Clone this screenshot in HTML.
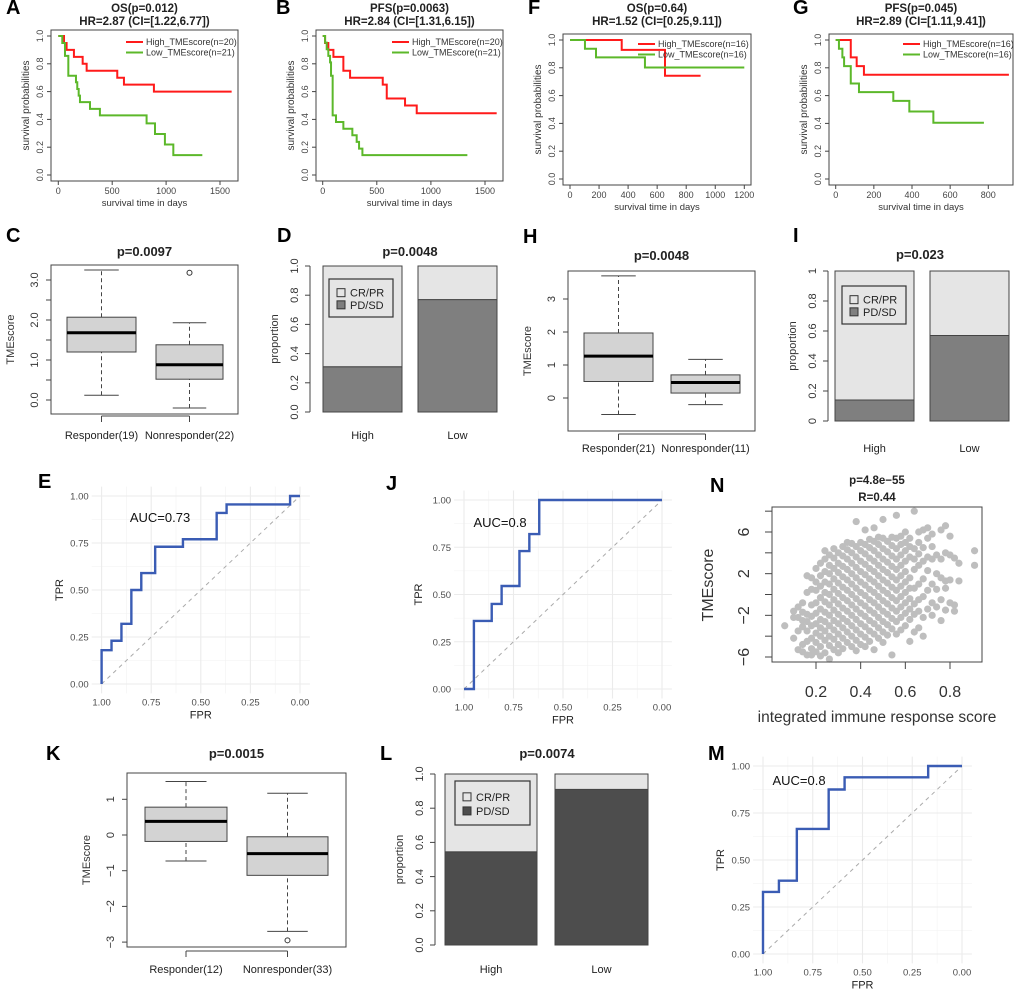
<!DOCTYPE html>
<html><head><meta charset="utf-8"><style>
html,body{margin:0;padding:0;background:#fff;}
svg{display:block;font-family:"Liberation Sans",Arial,sans-serif;}
</style></head><body>
<svg id="fig" width="1020" height="993" viewBox="0 0 1020 993" xmlns="http://www.w3.org/2000/svg"></svg>
<script>
// ---------- DATA ----------
const aHighT=[0,53,77,145,226,263,547,609,887], aHighS=[1,0.95,0.9,0.85,0.8,0.75,0.7,0.65,0.6], aHighEnd=1608;
const aLowT=[0,37,62,93,164,176,189,201,294,386,819,897,989,1067], aLowS=[1,0.95,0.857,0.714,0.667,0.619,0.571,0.524,0.476,0.429,0.371,0.295,0.219,0.143], aLowEnd=1336;
const bHighT=[0,22,52,99,191,253,555,592,761,869], bHighS=[1,0.95,0.9,0.85,0.75,0.7,0.65,0.55,0.5,0.444], bHighEnd=1608;
const bLowT=[0,22,37,52,68,77,92,123,191,274,314,336,367], bLowS=[1,0.952,0.905,0.857,0.81,0.714,0.429,0.381,0.333,0.286,0.238,0.19,0.143], bLowEnd=1337;
const fHighT=[0,356,654], fHighS=[1,0.929,0.743], fHighEnd=899;
const fLowT=[0,103,179,516], fLowS=[1,0.9375,0.875,0.802], fLowEnd=1200;
const gHighT=[0,79,110,148], gHighS=[1,0.875,0.8125,0.75], gHighEnd=908;
const gLowT=[0,17,35,44,79,122,302,386,512], gLowS=[1,0.9375,0.875,0.8125,0.6875,0.625,0.5625,0.486,0.405], gLowEnd=777;
const survTicks01=[0,0.2,0.4,0.6,0.8,1.0];
const survTicksAB=[0,500,1000,1500], survTicksF=[0,200,400,600,800,1000,1200], survTicksG=[0,200,400,600,800];
const cResp=[0.12,1.2,1.68,2.07,3.25], cNonr=[-0.2,0.52,0.88,1.38,1.93], cOut=[3.18];
const hResp=[-0.5,0.5,1.27,1.97,3.7], hNonr=[-0.2,0.15,0.47,0.7,1.17], hOut=[];
const kResp=[-0.73,-0.18,0.38,0.78,1.5], kNonr=[-2.7,-1.13,-0.52,-0.05,1.17], kOut=[-2.95];
const barCats=['High','Low'];
const dPD=[0.31,0.77], iPD=[0.14,0.57], lPD=[0.545,0.91];
const eFPR=[1,1,0.95,0.95,0.9,0.9,0.85,0.85,0.8,0.8,0.73,0.73,0.59,0.59,0.42,0.42,0.37,0.37,0.05,0.05,0];
const eTPR=[0,0.18,0.18,0.23,0.23,0.32,0.32,0.5,0.5,0.59,0.59,0.73,0.73,0.77,0.77,0.91,0.91,0.955,0.955,1,1];
const jFPR=[1,0.95,0.95,0.86,0.86,0.81,0.81,0.72,0.72,0.67,0.67,0.62,0.62,0];
const jTPR=[0,0,0.36,0.36,0.45,0.45,0.545,0.545,0.73,0.73,0.82,0.82,1,1];
const mFPR=[1,1,0.92,0.92,0.83,0.83,0.67,0.67,0.59,0.59,0.17,0.17,0];
const mTPR=[0,0.33,0.33,0.39,0.39,0.665,0.665,0.875,0.875,0.94,0.94,1,1];
const rocTicks=[0,0.25,0.5,0.75,1], rocTickLabels=['0.00','0.25','0.50','0.75','1.00'];
const nX=[0.06,0.10,0.12,0.14,0.16,0.18,0.20,0.22,0.24,0.26,0.28,0.30,0.32,0.34,0.36,0.38,0.40,0.42,0.44,0.46,0.48,0.50,0.52,0.54,0.56,0.58,0.60,0.62,0.64,0.66,0.68,0.70,0.72,0.74,0.76,0.78,0.80,0.82,0.84,0.91];
const nY=[[-3],[-4.2,-1.6,-2.2],[-5.3,-2.2,-1.2,-3.5],[-4.8,-3.1,-1.7,-0.8,-2.5,-5.5],[-5.8,-4.5,-3.5,-2.6,-1.9,1.8,0.2],
[-5.2,-4.2,-3.0,-2.1,-1.0,0.5,1.6,-5.8],[-5.5,-4.6,-3.7,-2.8,-1.8,-0.8,0.4,1.2,2.5],[-5.0,-4.0,-3.2,-2.4,-1.4,-0.3,0.8,1.8,3.0,-5.9],
[-5.6,-4.4,-3.5,-2.6,-1.7,-0.7,0.2,1.2,2.2,3.4,4.2],[-4.9,-4.0,-3.0,-2.0,-1.0,0,1.0,2.0,2.8,3.8,-6.2],[-5.3,-4.3,-3.4,-2.5,-1.5,-0.5,0.5,1.5,2.5,3.5,4.4],
[-4.8,-3.8,-2.8,-1.9,-0.9,0.1,1.1,2.1,3.0,4.0,-5.6],[-5.2,-4.2,-3.2,-2.3,-1.3,-0.3,0.7,1.7,2.7,3.7,4.6],[-4.6,-3.6,-2.6,-1.6,-0.6,0.4,1.4,2.4,3.4,4.3,5.0],
[-5.0,-4.0,-3.0,-2.0,-1.0,0,1.0,2.0,3.0,4.0,4.9],[-5.4,-4.4,-3.4,-2.4,-1.4,-0.4,0.6,1.6,2.6,3.6,4.6,7.0],[-4.8,-3.8,-2.8,-1.8,-0.8,0.2,1.2,2.2,3.2,4.2,5.0],
[-5.0,-4.1,-3.1,-2.1,-1.1,-0.1,0.9,1.9,2.9,3.9,4.8,6.2],[-4.5,-3.5,-2.5,-1.5,-0.5,0.5,1.5,2.5,3.5,4.5,5.3],[-5.3,-3.8,-2.8,-1.8,-0.8,0.2,1.2,2.2,3.2,4.2,5.1,6.4],
[-4.2,-3.2,-2.2,-1.2,-0.2,0.8,1.8,2.8,3.8,4.8,5.5],[-4.6,-3.6,-2.6,-1.6,-0.6,0.4,1.4,2.4,3.4,4.4,5.4,7.2],[-3.9,-2.9,-1.9,-0.9,0.1,1.1,2.1,3.1,4.1,5.1],
[-5.8,-3.3,-2.3,-1.3,-0.3,0.7,1.7,2.7,3.7,4.7,5.5],[-3.8,-2.6,-1.6,-0.6,0.4,1.4,2.4,3.4,4.4,5.4,7.6],[-3.4,-2.2,-1.2,-0.2,0.8,1.8,2.8,3.8,4.8,5.6],
[-3.0,-1.8,-0.8,0.2,1.2,2.2,3.2,4.2,5.0,6.0],[-4.5,-2.4,-1.4,-0.4,0.6,1.6,3.6,4.6,5.4],[-3.6,-1.9,-0.9,0.6,2.4,3.4,4.4,8.0],
[-3.2,-1.6,-0.5,1.0,2.8,3.9,5.0,6.0],[-4.0,-2.2,-0.2,1.5,3.2,4.5,6.2],[-1.4,0.4,2.3,3.6,5.4,6.4],[-2.0,-0.8,1.0,3.4,4.6,5.8],
[-1.2,0.5,2.0,3.8],[-2.5,-0.5,1.6,3.4,6.2],[-1.5,0.6,1.3,4.0,6.6],[-0.8,1.4,3.8,5.6],[-1.6,-1.0,3.5],[1.3,3.0],[2.8,4.2]];
const nXTicks=[0.2,0.4,0.6,0.8], nYTicks=[-6,-4,-2,0,2,4,6,8], nYLabels=[-6,-2,2,6];

// ---------- HELPERS ----------
const NS='http://www.w3.org/2000/svg';
const svg=document.getElementById('fig');
function mk(tag,attrs,parent){const e=document.createElementNS(NS,tag);for(const k in attrs)e.setAttribute(k,attrs[k]);(parent||svg).appendChild(e);return e;}
function sc(v0,p0,v1,p1){return v=>p0+(v-v0)*(p1-p0)/(v1-v0);}
function T(s,x,y,size,parent,opt){opt=opt||{};const a={x:x,y:y,'font-size':size,fill:opt.fill||'#222','text-anchor':opt.anchor||'middle'};
 if(opt.bold)a['font-weight']='bold';if(opt.rot)a.transform='rotate(-90 '+x+' '+y+')';const e=mk('text',a,parent);e.textContent=s;return e;}
function grp(name){const g=mk('g',{});return g;}
function fmt1(v){return v.toFixed(1);}

// ---------- SURVIVAL ----------
function surv(c){
 const g=grp(c.name);
 const x=sc(0,c.x0,c.xv,c.x1), y=sc(0,c.y0,1,c.y1);
 const L=T(c.letter,c.lx,14,20,g,{bold:1,anchor:'start',fill:'#000'});
 
 const t1=T(c.title1,(c.bx0+c.bx1)/2,12,11.5,g,{bold:1});
 
 const t2=T(c.title2,(c.bx0+c.bx1)/2,25,11.5,g,{bold:1});
 
 const box=mk('rect',{x:c.bx0,y:c.by0,width:c.bx1-c.bx0,height:c.by1-c.by0,fill:'none',stroke:'#444','stroke-width':1},g);
 
 survTicks01.forEach(v=>{mk('line',{x1:c.bx0,x2:c.bx0-4,y1:y(v),y2:y(v),stroke:'#444'},g);T(fmt1(v),c.bx0-8,y(v),9,g,{rot:1,fill:'#444'});});
 mk('line',{x1:c.bx0,x2:c.bx0,y1:y(0),y2:y(1),stroke:'#444'},g);
 const yt=T('survival probabilities',c.bx0-22,(c.by0+c.by1)/2,10,g,{rot:1,fill:'#333'});
 
 c.xticks.forEach(v=>{mk('line',{x1:x(v),x2:x(v),y1:c.by1,y2:c.by1+4,stroke:'#444'},g);T(String(v),x(v),c.by1+13,9,g,{fill:'#444'});});
 mk('line',{x1:x(c.xticks[0]),x2:x(c.xticks[c.xticks.length-1]),y1:c.by1,y2:c.by1,stroke:'#444'},g);
 const xt=T('survival time in days',(c.bx0+c.bx1)/2,c.by1+25,9.5,g,{fill:'#333'});
 
 c.curves.forEach(cv=>{
  let d='M'+x(cv.t[0])+' '+y(cv.s[0]);
  for(let i=1;i<cv.t.length;i++){d+=' H'+x(cv.t[i])+' V'+y(cv.s[i]);}
  d+=' H'+x(cv.end);
  const p=mk('path',{d:d,fill:'none',stroke:cv.col,'stroke-width':2},g);
  
 });
 c.curves.forEach((cv,i)=>{
  const ly=c.legY+i*10.5;
  const ln=mk('line',{x1:c.legX,x2:c.legX+17,y1:ly,y2:ly,stroke:cv.col,'stroke-width':2},g);
  
  const lt=T(cv.label,c.legX+20,ly+3.2,9,g,{anchor:'start',fill:'#333'});
  
 });
}
const RED='#ff1a1a', GRN='#5cb82a';
surv({name:'panel-a-os',letter:'A',lx:6,title1:'OS(p=0.012)',title2:'HR=2.87 (CI=[1.22,6.77])',bx0:51,bx1:238,by0:30,by1:181,x0:58.3,x1:220,xv:1500,y0:175,y1:36,xticks:survTicksAB,legX:126,legY:42,
 curves:[{t:aHighT,s:aHighS,end:aHighEnd,col:RED,nm:'curve-high',label:'High_TMEscore(n=20)'},{t:aLowT,s:aLowS,end:aLowEnd,col:GRN,nm:'curve-low',label:'Low_TMEscore(n=21)'}]});
surv({name:'panel-b-pfs',letter:'B',lx:276,title1:'PFS(p=0.0063)',title2:'HR=2.84 (CI=[1.31,6.15])',bx0:316,bx1:503,by0:30,by1:181,x0:322.7,x1:485,xv:1500,y0:175,y1:36,xticks:survTicksAB,legX:392,legY:42,
 curves:[{t:bHighT,s:bHighS,end:bHighEnd,col:RED,nm:'curve-high',label:'High_TMEscore(n=20)'},{t:bLowT,s:bLowS,end:bLowEnd,col:GRN,nm:'curve-low',label:'Low_TMEscore(n=21)'}]});
surv({name:'panel-f-os',letter:'F',lx:528,title1:'OS(p=0.64)',title2:'HR=1.52 (CI=[0.25,9.11])',bx0:563,bx1:751,by0:34,by1:185,x0:570,x1:744.3,xv:1200,y0:179,y1:40,xticks:survTicksF,legX:638,legY:44,
 curves:[{t:fHighT,s:fHighS,end:fHighEnd,col:RED,nm:'curve-high',label:'High_TMEscore(n=16)'},{t:fLowT,s:fLowS,end:fLowEnd,col:GRN,nm:'curve-low',label:'Low_TMEscore(n=16)'}]});
surv({name:'panel-g-pfs',letter:'G',lx:793,title1:'PFS(p=0.045)',title2:'HR=2.89 (CI=[1.11,9.41])',bx0:829,bx1:1013,by0:34,by1:185,x0:835.7,x1:988.3,xv:800,y0:179,y1:40,xticks:survTicksG,legX:903,legY:44,
 curves:[{t:gHighT,s:gHighS,end:gHighEnd,col:RED,nm:'curve-high',label:'High_TMEscore(n=16)'},{t:gLowT,s:gLowS,end:gLowEnd,col:GRN,nm:'curve-low',label:'Low_TMEscore(n=16)'}]});

// ---------- BOXPLOTS ----------
function boxp(c){
 const g=grp(c.name);
 const y=sc(0,c.y0,1,c.y0-c.unit);
 const L=T(c.letter,c.lx,c.ly,20,g,{bold:1,anchor:'start',fill:'#000'});
 
 const t=T(c.title,(c.bx0+c.bx1)/2,c.ty,13,g,{bold:1});
 
 const fr=mk('rect',{x:c.bx0,y:c.by0,width:c.bx1-c.bx0,height:c.by1-c.by0,fill:'none',stroke:'#444'},g);
 
 c.ticks.forEach(v=>{mk('line',{x1:c.bx0,x2:c.bx0-5,y1:y(v),y2:y(v),stroke:'#444'},g);});
 mk('line',{x1:c.bx0,x2:c.bx0,y1:y(c.ticks[0]),y2:y(c.ticks[c.ticks.length-1]),stroke:'#444'},g);
 c.labels.forEach(v=>{T(c.lf(v),c.bx0-13,y(v),11,g,{rot:1,fill:'#333'});});
 const yt=T('TMEscore',c.bx0-37,(c.by0+c.by1)/2,11,g,{rot:1,fill:'#333'});
 
 c.groups.forEach((gr,i)=>{
  const cx=(gr.x0+gr.x1)/2, hw=(gr.x1-gr.x0)/4, s=gr.s;
  const gg=mk('g',{},g);
  
  
  mk('line',{x1:cx,x2:cx,y1:y(s[0]),y2:y(s[1]),stroke:'#444','stroke-dasharray':'4,3'},gg);
  mk('line',{x1:cx,x2:cx,y1:y(s[3]),y2:y(s[4]),stroke:'#444','stroke-dasharray':'4,3'},gg);
  mk('line',{x1:cx-hw,x2:cx+hw,y1:y(s[0]),y2:y(s[0]),stroke:'#444'},gg);
  mk('line',{x1:cx-hw,x2:cx+hw,y1:y(s[4]),y2:y(s[4]),stroke:'#444'},gg);
  mk('rect',{x:gr.x0,y:y(s[3]),width:gr.x1-gr.x0,height:y(s[1])-y(s[3]),fill:'#d3d3d3',stroke:'#444'},gg);
  mk('line',{x1:gr.x0,x2:gr.x1,y1:y(s[2]),y2:y(s[2]),stroke:'#000','stroke-width':3},gg);
  gr.out.forEach(o=>{mk('circle',{cx:cx,cy:y(o),r:2.5,fill:'none',stroke:'#333'},gg);});
  mk('line',{x1:cx,x2:cx,y1:c.ax,y2:c.ax+6,stroke:'#444'},g);
  const xl=T(gr.label,cx,c.xly,11,g,{fill:'#222'});
  
 });
 const cx0=(c.groups[0].x0+c.groups[0].x1)/2, cx1=(c.groups[1].x0+c.groups[1].x1)/2;
 mk('line',{x1:cx0,x2:cx1,y1:c.ax,y2:c.ax,stroke:'#444'},g);
}
boxp({name:'panel-c-boxplot',letter:'C',lx:6,ly:242,title:'p=0.0097',ty:256,bx0:51,bx1:238,by0:265,by1:414,y0:400,unit:40,
 ticks:[0,0.5,1,1.5,2,2.5,3],labels:[0,1,2,3],lf:v=>v.toFixed(1),ax:416,xly:439,
 groups:[{x0:67,x1:136,s:cResp,out:[],nm:'box-responder',label:'Responder(19)'},{x0:156,x1:223,s:cNonr,out:cOut,nm:'box-nonresponder',label:'Nonresponder(22)'}]});
boxp({name:'panel-h-boxplot',letter:'H',lx:523,ly:243,title:'p=0.0048',ty:260,bx0:568,bx1:755,by0:271,by1:431,y0:398,unit:33,
 ticks:[0,1,2,3],labels:[0,1,2,3],lf:v=>String(v),ax:434,xly:452,
 groups:[{x0:584,x1:653,s:hResp,out:hOut,nm:'box-responder',label:'Responder(21)'},{x0:671,x1:740,s:hNonr,out:[],nm:'box-nonresponder',label:'Nonresponder(11)'}]});
boxp({name:'panel-k-boxplot',letter:'K',lx:46,ly:760,title:'p=0.0015',ty:758,bx0:127,bx1:346,by0:773,by1:947,y0:835,unit:35.7,
 ticks:[-3,-2,-1,0,1],labels:[-3,-2,-1,0,1],lf:v=>(v<0?'\u2212'+(-v):String(v)),ax:951,xly:973,
 groups:[{x0:145,x1:227,s:kResp,out:[],nm:'box-responder',label:'Responder(12)'},{x0:247,x1:328,s:kNonr,out:kOut,nm:'box-nonresponder',label:'Nonresponder(33)'}]});

// ---------- BARS ----------
function bars(c){
 const g=grp(c.name);
 const y=sc(0,c.y0,1,c.y1);
 const L=T(c.letter,c.lx,c.ly,20,g,{bold:1,anchor:'start',fill:'#000'});
 
 const t=T(c.title,c.tx,c.ty,13,g,{bold:1});
 
 [0,0.2,0.4,0.6,0.8,1].forEach(v=>{mk('line',{x1:c.ax,x2:c.ax-5,y1:y(v),y2:y(v),stroke:'#444'},g);T(c.lf(v),c.ax-12,y(v),11,g,{rot:1,fill:'#333'});});
 mk('line',{x1:c.ax,x2:c.ax,y1:y(0),y2:y(1),stroke:'#444'},g);
 const yt=T('proportion',c.ax-32,(c.y0+c.y1)/2,11,g,{rot:1,fill:'#333'});
 
 c.pd.forEach((v,i)=>{
  const x0=c.bx[i][0], w=c.bx[i][1]-c.bx[i][0];
  const r1=mk('rect',{x:x0,y:y(v),width:w,height:y(0)-y(v),fill:c.dark,stroke:'#444'},g);
  
  const r2=mk('rect',{x:x0,y:y(1),width:w,height:y(v)-y(1),fill:'#e5e5e5',stroke:'#444'},g);
  
  const xl=T(barCats[i],x0+w/2,c.xly,11,g,{fill:'#222'});
  
 });
 const lg=mk('g',{},g);
 
 
 mk('rect',{x:c.lg[0],y:c.lg[1],width:c.lg[2]-c.lg[0],height:c.lg[3]-c.lg[1],fill:'#e5e5e5',stroke:'#333','stroke-width':1.2},lg);
 const lh=(c.lg[3]-c.lg[1]);
 [['CR/PR','#e5e5e5'],['PD/SD',c.dark]].forEach((e,i)=>{
  const yy=c.lg[1]+lh*(0.36+i*0.32);
  mk('rect',{x:c.lg[0]+8,y:yy-4,width:8,height:8,fill:e[1],stroke:'#333'},lg);
  const te=T(e[0],c.lg[0]+21,yy+4,11,lg,{anchor:'start',fill:'#222'});
  
 });
}
bars({name:'panel-d-proportion',letter:'D',lx:277,ly:242,title:'p=0.0048',tx:410,ty:256,ax:310,y0:412,y1:266,lf:v=>v.toFixed(1),
 pd:dPD,bx:[[323,402],[418,497]],dark:'#7f7f7f',lg:[329,279,393,317],xly:439});
bars({name:'panel-i-proportion',letter:'I',lx:793,ly:242,title:'p=0.023',tx:920,ty:259,ax:828,y0:421,y1:271,lf:v=>(v===0||v===1?String(v):v.toFixed(1)),
 pd:iPD,bx:[[835,914],[930,1009]],dark:'#7f7f7f',lg:[842,286,906,324],xly:452});
bars({name:'panel-l-proportion',letter:'L',lx:380,ly:760,title:'p=0.0074',tx:547,ty:758,ax:435,y0:945,y1:774,lf:v=>v.toFixed(1),
 pd:lPD,bx:[[445,537],[555,648]],dark:'#4d4d4d',lg:[455,781,530,825],xly:973});

// ---------- ROC ----------
function roc(c){
 const g=grp(c.name);
 const x=sc(1,c.x1p,0,c.x0p), y=sc(0,c.y0p,1,c.y1p);
 const L=T(c.letter,c.lx,c.ly,20,g,{bold:1,anchor:'start',fill:'#000'});
 
 const px0=x(1.05),px1=x(-0.05),py0=y(1.05),py1=y(-0.05);
 [0.125,0.375,0.625,0.875].forEach(v=>{mk('line',{x1:x(v),x2:x(v),y1:py0,y2:py1,stroke:'#f2f2f2','stroke-width':0.6},g);mk('line',{x1:px0,x2:px1,y1:y(v),y2:y(v),stroke:'#f2f2f2','stroke-width':0.6},g);});
 rocTicks.forEach((v,i)=>{
  mk('line',{x1:x(v),x2:x(v),y1:py0,y2:py1,stroke:'#ebebeb','stroke-width':1.1},g);
  mk('line',{x1:px0,x2:px1,y1:y(v),y2:y(v),stroke:'#ebebeb','stroke-width':1.1},g);
  T(rocTickLabels[i],x(v),py1+12,9.5,g,{fill:'#4d4d4d'});
  T(rocTickLabels[i],px0-3,y(v)+3.5,9.5,g,{anchor:'end',fill:'#4d4d4d'});
 });
 const dg=mk('line',{x1:x(1),y1:y(0),x2:x(0),y2:y(1),stroke:'#aaaaaa','stroke-dasharray':'4,4'},g);
 
 let d='';c.fpr.forEach((f,i)=>{d+=(i?' L':'M')+x(f)+' '+y(c.tpr[i]);});
 const p=mk('path',{d:d,fill:'none',stroke:'#3a5cb4','stroke-width':2.4},g);
 
 const a=T(c.auc,c.ax,c.ay,13,g,{fill:'#111'});
 
 const xt=T('FPR',(px0+px1)/2,py1+25,11,g,{fill:'#222'});
 
 const yt=T('TPR',c.tprx,(py0+py1)/2,11,g,{rot:1,fill:'#222'});
 
}
roc({name:'panel-e-roc',letter:'E',lx:38,ly:488,x1p:101.6,x0p:300,y0p:684,y1p:496,fpr:eFPR,tpr:eTPR,auc:'AUC=0.73',ax:160,ay:522,tprx:63});
roc({name:'panel-j-roc',letter:'J',lx:386,ly:490,x1p:464,x0p:662,y0p:689,y1p:500,fpr:jFPR,tpr:jTPR,auc:'AUC=0.8',ax:500,ay:527,tprx:422});
roc({name:'panel-m-roc',letter:'M',lx:708,ly:760,x1p:763,x0p:962,y0p:954,y1p:766,fpr:mFPR,tpr:mTPR,auc:'AUC=0.8',ax:799,ay:785,tprx:724});

// ---------- SCATTER N ----------
(function(){
 const g=grp('panel-n-scatter');
 const x=sc(0.2,816,0.8,950), y=sc(-6,657,6,532);
 const L=T('N',710,492,20,g,{bold:1,anchor:'start',fill:'#000'});
 
 const t1=T('p=4.8e\u221255',877,484,11.5,g,{bold:1});
 
 const t2=T('R=0.44',877,501,11.5,g,{bold:1});
 
 const pts=mk('g',{},g);
 
 
 nX.forEach((xv,i)=>{nY[i].forEach(yv=>{mk('circle',{cx:x(xv),cy:y(yv),r:3.6,fill:'#bebebe'},pts);});});
 const fr=mk('rect',{x:772,y:507,width:210,height:155,fill:'none',stroke:'#444'},g);
 
 nYTicks.forEach(v=>{mk('line',{x1:772,x2:765,y1:y(v),y2:y(v),stroke:'#444'},g);});
 mk('line',{x1:772,x2:772,y1:y(-6),y2:y(8),stroke:'#444'},g);
 nYLabels.forEach(v=>{T(v<0?'\u2212'+(-v):String(v),749,y(v),16,g,{rot:1,fill:'#333'});});
 nXTicks.forEach(v=>{mk('line',{x1:x(v),x2:x(v),y1:662,y2:669,stroke:'#444'},g);T(v.toFixed(1),x(v),697,16,g,{fill:'#333'});});
 mk('line',{x1:x(0.2),x2:x(0.8),y1:662,y2:662,stroke:'#444'},g);
 const xt=T('integrated immune response score',877,722,15.5,g,{fill:'#333'});
 
 const yt=T('TMEscore',713,585,16,g,{rot:1,fill:'#333'});
 
})();
</script>
</body></html>
